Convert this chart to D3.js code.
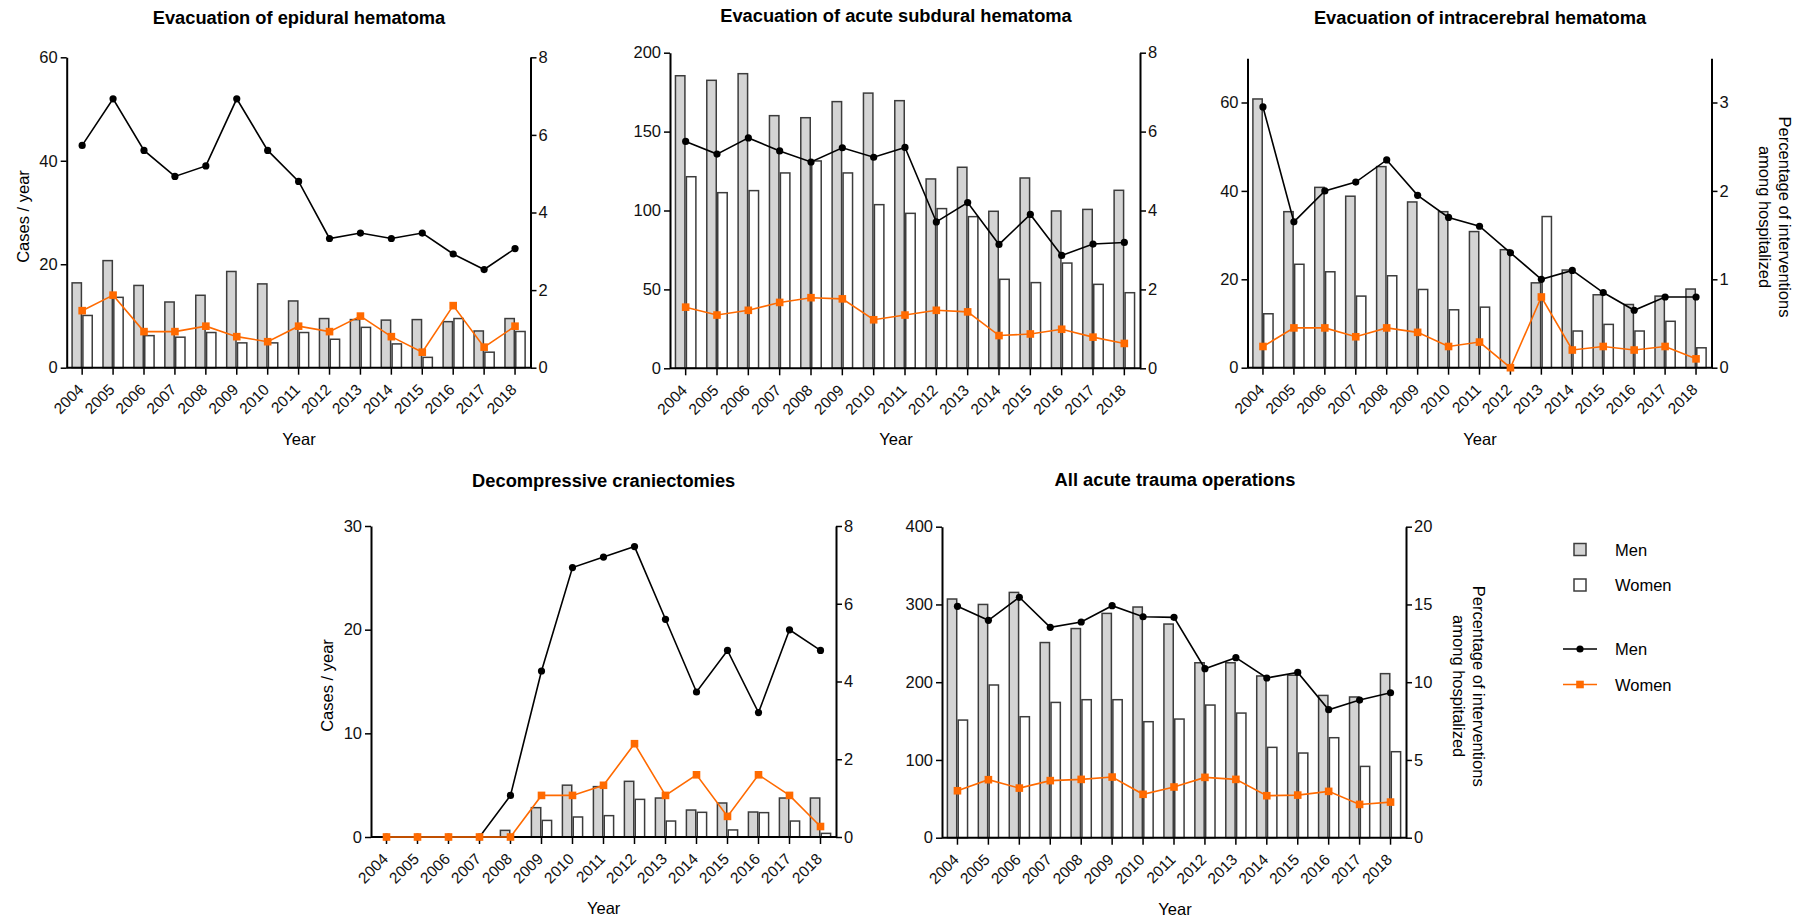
<!DOCTYPE html>
<html>
<head>
<meta charset="utf-8">
<script src="https://cdnjs.cloudflare.com/ajax/libs/d3/7.8.5/d3.min.js"></script>
<style>
  body { margin: 0; background: #fff; }
  svg { display: block; font-family: "Liberation Sans", Arial, Helvetica, sans-serif; }
  .tick text { fill: #111; }
</style>
</head>
<body>
<div id="chart"></div>
<script>
const years = ["2004","2005","2006","2007","2008","2009","2010","2011","2012","2013","2014","2015","2016","2017","2018"]

// Evacuation of epidural hematoma
const epiMenCases   = [16.4, 20.7, 15.9, 12.7, 14.0, 18.6, 16.2, 12.9, 9.5, 9.3, 9.2, 9.3, 8.9, 7.1, 9.5]
const epiWomenCases = [10.1, 13.6, 6.2, 5.9, 6.8, 4.8, 4.8, 6.8, 5.5, 7.8, 4.6, 2.0, 9.5, 3.0, 7.0]
const epiMenPct     = [5.73, 6.93, 5.6, 4.93, 5.2, 6.93, 5.6, 4.8, 3.33, 3.47, 3.33, 3.47, 2.93, 2.53, 3.07]
const epiWomenPct   = [1.47, 1.87, 0.93, 0.93, 1.07, 0.8, 0.67, 1.07, 0.93, 1.33, 0.8, 0.4, 1.6, 0.53, 1.07]

// Evacuation of acute subdural hematoma
const sdhMenCases   = [185.4, 182.5, 186.7, 160.1, 158.8, 169, 174.4, 169.6, 120, 127.4, 99.5, 120.6, 99.7, 100.7, 112.8]
const sdhWomenCases = [121.4, 111.3, 112.6, 123.8, 131.4, 123.8, 103.7, 98.2, 101.2, 96.1, 56.4, 54.3, 66.7, 53.2, 47.9]
const sdhMenPct     = [5.75, 5.43, 5.84, 5.51, 5.23, 5.59, 5.35, 5.6, 3.71, 4.2, 3.14, 3.9, 2.86, 3.15, 3.19]
const sdhWomenPct   = [1.55, 1.35, 1.47, 1.67, 1.79, 1.76, 1.23, 1.35, 1.47, 1.43, 0.83, 0.87, 0.99, 0.79, 0.63]

// Evacuation of intracerebral hematoma
const ichMenCases   = [60.8, 35.3, 40.8, 38.8, 45.5, 37.5, 35.3, 30.8, 26.7, 19.2, 22.1, 16.5, 14.3, 16.2, 17.8]
const ichWomenCases = [12.2, 23.4, 21.7, 16.2, 20.8, 17.7, 13.1, 13.7, 0, 34.2, 8.3, 9.8, 8.3, 10.5, 4.5]
const ichMenPct     = [2.95, 1.65, 2.0, 2.1, 2.35, 1.95, 1.7, 1.6, 1.3, 1.0, 1.1, 0.85, 0.65, 0.8, 0.8]
const ichWomenPct   = [0.24, 0.45, 0.45, 0.35, 0.45, 0.4, 0.24, 0.29, 0, 0.8, 0.2, 0.24, 0.2, 0.24, 0.1]

// Decompressive craniectomies
const dcMenCases   = [0, 0, 0, 0, 0.64, 2.83, 5.0, 4.86, 5.37, 3.76, 2.6, 3.28, 2.41, 3.76, 3.76]
const dcWomenCases = [0, 0, 0, 0, 0, 1.6, 1.93, 2.06, 3.63, 1.54, 2.38, 0.68, 2.35, 1.54, 0.35]
const dcMenPct     = [0, 0, 0, 0, 1.07, 4.27, 6.93, 7.2, 7.47, 5.6, 3.73, 4.8, 3.2, 5.33, 4.8]
const dcWomenPct   = [0, 0, 0, 0, 0, 1.07, 1.07, 1.33, 2.4, 1.07, 1.6, 0.53, 1.6, 1.07, 0.27]

// All acute trauma operations
const allMenCases   = [307, 300, 315.5, 251, 269, 288.5, 296.7, 274.8, 225, 225, 208, 209, 183, 181, 211]
const allWomenCases = [151.3, 196.4, 155.6, 174, 177.5, 177.5, 149.2, 152.6, 170.6, 160.3, 116.2, 108.9, 128.6, 91.7, 110.6]
const allMenPct     = [14.88, 13.98, 15.46, 13.53, 13.87, 14.92, 14.21, 14.17, 10.87, 11.58, 10.27, 10.63, 8.23, 8.85, 9.32]
const allWomenPct   = [3.02, 3.73, 3.19, 3.67, 3.75, 3.9, 2.79, 3.26, 3.88, 3.75, 2.7, 2.74, 2.98, 2.14, 2.29]

const titles = ["Evacuation of epidural hematoma", "Evacuation of acute subdural hematoma",
  "Evacuation of intracerebral hematoma", "Decompressive craniectomies", "All acute trauma operations"]
const leftTicks  = [[0, 20, 40, 60], [0, 50, 100, 150, 200], [0, 20, 40, 60], [0, 10, 20, 30], [0, 100, 200, 300, 400]]
const rightTicks = [[0, 2, 4, 6, 8], [0, 2, 4, 6, 8], [0, 1, 2, 3], [0, 2, 4, 6, 8], [0, 5, 10, 15, 20]]
const leftMax  = [60, 200, 70, 30, 400]
const rightMax = [8, 8, 3.5, 8, 20]
const legendBars  = ["Men", "Women"]
const legendLines = ["Men", "Women"]

const W = 1803, H = 919
const menFill = "#d4d4d4", barStroke = "#3c3c3c", orange = "#ff6a00"

// panel frames (pixel layout of the original figure)
const panels = [
  {left: 66.7, right: 530.5, top: 57.3, bottom: 367.7, titleX: 299, titleY: 17.5, men: epiMenCases, women: epiWomenCases, mp: epiMenPct, wp: epiWomenPct, yLabel: true, rLabel: false},
  {left: 670, right: 1140, top: 52.7, bottom: 368.3, titleX: 896, titleY: 15.7, men: sdhMenCases, women: sdhWomenCases, mp: sdhMenPct, wp: sdhWomenPct, yLabel: false, rLabel: false},
  {left: 1247.5, right: 1711.5, top: 58.3, bottom: 367.7, titleX: 1480, titleY: 17.3, men: ichMenCases, women: ichWomenCases, mp: ichMenPct, wp: ichWomenPct, yLabel: false, rLabel: true},
  {left: 371, right: 836, top: 526, bottom: 837, titleX: 603.7, titleY: 480.7, men: dcMenCases, women: dcWomenCases, mp: dcMenPct, wp: dcWomenPct, yLabel: true, rLabel: false},
  {left: 942, right: 1406, top: 526.7, bottom: 837.7, titleX: 1175, titleY: 479, men: allMenCases, women: allWomenCases, mp: allMenPct, wp: allWomenPct, yLabel: false, rLabel: true}
]

const svg = d3.select("#chart").append("svg")
  .attr("width", W).attr("height", H)

panels.forEach((p, i) => {
  const g = svg.append("g").attr("class", "panel")
  const x = d3.scaleBand().domain(years).range([p.left, p.right])
    .paddingInner(0.3).paddingOuter(0.15)
  const xSub = d3.scaleBand().domain(["men", "women"]).range([0, x.bandwidth()])
  const y = d3.scaleLinear().domain([0, leftMax[i]]).range([p.bottom, p.top])
  const yr = d3.scaleLinear().domain([0, rightMax[i]]).range([p.bottom, p.top])
  const cx = d => x(d) + x.bandwidth() / 2

  // bars
  const rows = years.map((yr_, k) => ({year: yr_, men: p.men[k], women: p.women[k]}))
  const grp = g.selectAll("g.year").data(rows).enter().append("g")
    .attr("class", "year")
    .attr("transform", d => `translate(${x(d.year)},0)`)
  grp.selectAll("rect")
    .data(d => [{k: "men", v: d.men}, {k: "women", v: d.women}].filter(e => e.v > 0))
    .enter().append("rect")
    .attr("x", d => xSub(d.k) + 0.75)
    .attr("y", d => y(d.v))
    .attr("width", xSub.bandwidth() - 1.5)
    .attr("height", d => p.bottom - y(d.v))
    .attr("fill", d => d.k === "men" ? menFill : "#fff")
    .attr("stroke", barStroke)
    .attr("stroke-width", 1.5)

  // axes
  const ax = g.append("g").attr("transform", `translate(0,${p.bottom})`)
    .call(d3.axisBottom(x).tickSize(7).tickSizeOuter(0))
  ax.select(".domain").attr("d", `M${p.left},0H${p.right}`).attr("stroke-width", 2)
  ax.selectAll(".tick line").attr("stroke-width", 1.5)
  ax.selectAll(".tick text")
    .attr("font-size", 15.5)
    .attr("text-anchor", "end")
    .attr("y", 0).attr("dy", 0)
    .attr("transform", "translate(2.5,23) rotate(-45)")

  const fmt = d3.format("~g")
  const ay = g.append("g").attr("transform", `translate(${p.left},0)`)
    .call(d3.axisLeft(y).tickValues(leftTicks[i]).tickFormat(fmt).tickSize(6).tickSizeOuter(0).tickPadding(3))
  ay.select(".domain").attr("stroke-width", 2)
  ay.selectAll(".tick line").attr("stroke-width", 1.5)
  ay.selectAll(".tick text").attr("font-size", 16.5)

  const ar = g.append("g").attr("transform", `translate(${p.right},0)`)
    .call(d3.axisRight(yr).tickValues(rightTicks[i]).tickFormat(fmt).tickSize(6).tickSizeOuter(0).tickPadding(2))
  ar.select(".domain").attr("stroke-width", 2)
  ar.selectAll(".tick line").attr("stroke-width", 1.5)
  ar.selectAll(".tick text").attr("font-size", 16.5)

  // lines
  const line = d3.line().x(d => cx(d.year)).y(d => yr(d.v))
  const series = [
    {v: p.mp, color: "#000", shape: "circle"},
    {v: p.wp, color: orange, shape: "square"}
  ]
  series.forEach(s => {
    const pts = years.map((yy, k) => ({year: yy, v: s.v[k]}))
    g.append("path").datum(pts)
      .attr("d", line).attr("fill", "none")
      .attr("stroke", s.color).attr("stroke-width", 1.6)
    if (s.shape === "circle") {
      g.selectAll(null).data(pts).enter().append("circle")
        .attr("cx", d => cx(d.year)).attr("cy", d => yr(d.v))
        .attr("r", 3.6).attr("fill", s.color)
    } else {
      g.selectAll(null).data(pts).enter().append("rect")
        .attr("x", d => cx(d.year) - 3.8).attr("y", d => yr(d.v) - 3.8)
        .attr("width", 7.6).attr("height", 7.6).attr("fill", s.color)
    }
  })

  // titles and labels
  g.append("text").attr("x", p.titleX).attr("y", p.titleY)
    .attr("text-anchor", "middle").attr("dominant-baseline", "central")
    .attr("font-weight", "bold").attr("font-size", 18.3)
    .text(titles[i])
  g.append("text").attr("x", p.titleX).attr("y", p.bottom + 71)
    .attr("text-anchor", "middle").attr("dominant-baseline", "central")
    .attr("font-size", 16.5).text("Year")
  if (p.yLabel) {
    g.append("text")
      .attr("transform", `translate(${p.left - 43.7},${(p.top + p.bottom) / 2 + 4}) rotate(-90)`)
      .attr("text-anchor", "middle").attr("dominant-baseline", "central")
      .attr("font-size", 16.5).text("Cases / year")
  }
  if (p.rLabel) {
    const t = g.append("text")
      .attr("transform", `translate(${p.right + 63},${(p.top + p.bottom) / 2 + 4}) rotate(90)`)
      .attr("text-anchor", "middle").attr("font-size", 16.5)
    t.append("tspan").attr("x", 0).attr("dy", "-0.25em").text("Percentage of interventions")
    t.append("tspan").attr("x", 0).attr("dy", "1.2em").text("among hospitalized")
  }
})

// legend
const lg = svg.append("g").attr("class", "legend").attr("font-size", 16.5)
legendBars.forEach((name, k) => {
  const cy = 549.5 + k * 35.5
  lg.append("rect").attr("x", 1574).attr("y", cy - 6).attr("width", 12).attr("height", 12)
    .attr("fill", k === 0 ? menFill : "#fff").attr("stroke", barStroke).attr("stroke-width", 1.5)
  lg.append("text").attr("x", 1615).attr("y", cy).attr("dominant-baseline", "central").text(name)
})
legendLines.forEach((name, k) => {
  const cy = 649 + k * 35.5
  const c = k === 0 ? "#000" : orange
  lg.append("line").attr("x1", 1563).attr("x2", 1597).attr("y1", cy).attr("y2", cy)
    .attr("stroke", c).attr("stroke-width", 1.6)
  if (k === 0) lg.append("circle").attr("cx", 1580).attr("cy", cy).attr("r", 3.6).attr("fill", c)
  else lg.append("rect").attr("x", 1576.2).attr("y", cy - 3.8).attr("width", 7.6).attr("height", 7.6).attr("fill", c)
  lg.append("text").attr("x", 1615).attr("y", cy).attr("dominant-baseline", "central").text(name)
})
</script>
</body>
</html>
